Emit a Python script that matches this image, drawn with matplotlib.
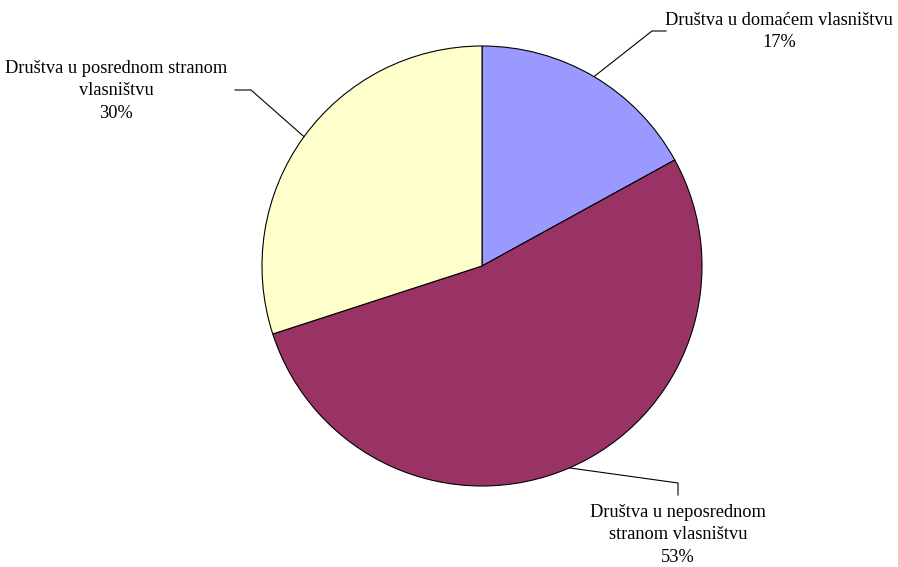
import numpy as np
import matplotlib.pyplot as plt

labels = ['Društva u domaćem vlasništvu',
          'Društva u neposrednom\nstranom vlasništvu',
          'Društva u posrednom stranom\nvlasništvu']
shares = [17, 53, 30]
colors = ['#9999FF', '#993366', '#FFFFCC']

W, H = 898, 567
fig = plt.figure(figsize=(W / 100, H / 100), dpi=100)
ax = fig.add_axes([0, 0, 1, 1])

cx, cy, r = 482, H - 266, 220
wedges, _ = ax.pie(shares, colors=colors, startangle=90, counterclock=False,
                   center=(cx, cy), radius=r, frame=True,
                   wedgeprops=dict(edgecolor='black', linewidth=0.8))
ax.set_xlim(0, W)
ax.set_ylim(0, H)
ax.set_aspect('equal')
ax.axis('off')

# label text (center x, top y in image px), elbow, line end
layout = [
    dict(tx=779, ty=12, elbow=(652, 31), end=(666, 31)),
    dict(tx=678, ty=504, elbow=(678, 483), end=(678, 495)),
    dict(tx=116, ty=60, elbow=(251, 90), end=(235, 90)),
]

for w, lab, pct, lay in zip(wedges, labels, shares, layout):
    mid = np.deg2rad((w.theta1 + w.theta2) / 2)
    ax_ = cx + r * np.cos(mid)
    ay_ = cy + r * np.sin(mid)
    ex, ey = lay['elbow']
    fx, fy = lay['end']
    ax.plot([ax_, ex, fx], [ay_, H - ey, H - fy], color='black', lw=0.8)
    ax.text(lay['tx'], H - lay['ty'], f'{lab}\n{pct}%', ha='center', va='top',
            fontsize=13.2, family='Liberation Serif', linespacing=1.42)

fig.savefig('out.png', dpi=100)
